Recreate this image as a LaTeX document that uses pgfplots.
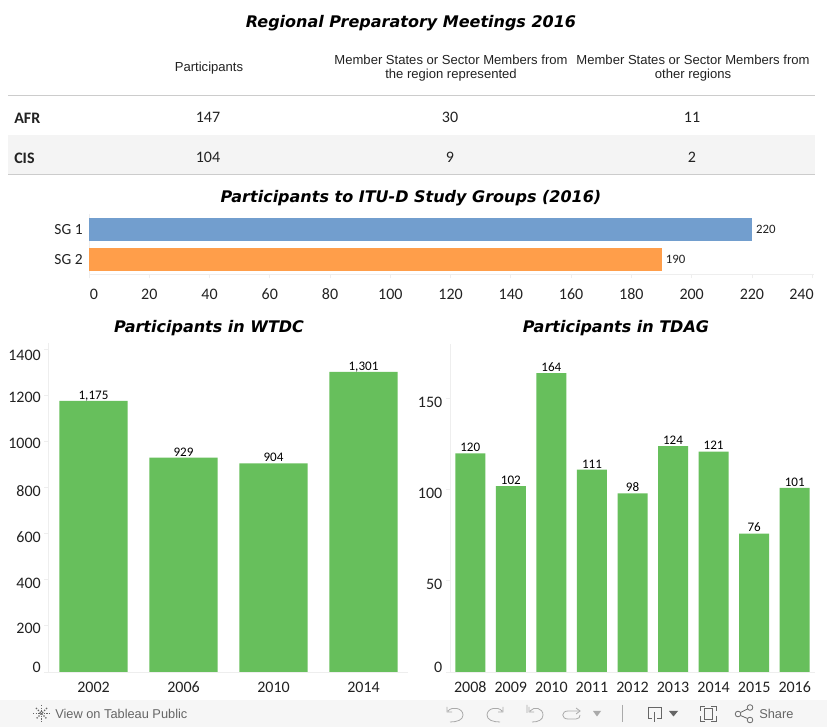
\documentclass[border=0pt]{standalone}
\usepackage{pgfplots}
\pgfplotsset{compat=1.18}
\usepackage{fontspec}
\setmainfont{Liberation Sans}
\newfontfamily\crl{Carlito}
\newfontfamily\ttl{DejaVu Sans}
\definecolor{grn}{HTML}{67BF5C}
\definecolor{blu}{HTML}{729ECE}
\definecolor{org}{HTML}{FF9E4A}
\definecolor{faint}{HTML}{EEEEEE}
\definecolor{rule}{HTML}{CCCCCC}
\definecolor{txt}{HTML}{222222}
\definecolor{icon}{HTML}{AAAAAA}
\definecolor{dk}{HTML}{666666}
\newcommand{\lab}[2]{\raisebox{#1}[7pt][0pt]{#2}}
\newcommand{\titlefont}{\ttl\bfseries\itshape\fontsize{12pt}{14pt}\selectfont}
\pgfplotsset{
  base/.style={
    scale only axis, clip=false,
    axis x line*=bottom, axis y line*=left,
    axis line style={faint},
    tick style={faint, line width=0.6pt},
    major tick length=3pt,
    tick align=outside,
    ticklabel style={font=\crl\fontsize{12pt}{13pt}\selectfont, text=txt},
    xticklabel style={text height=7.6pt, text depth=0pt},
    /pgf/number format/assume math mode=true,
    /pgf/number format/1000 sep={},
  },
  vbars/.style={
    base, ybar, ymin=0, bar shift=0pt,
    xtick=data,
    x tick style={draw=none},
    extra x tick style={tick style={faint}, major tick length=3pt, xticklabel=\empty},
    xticklabel style={yshift=-1.5pt},
    yticklabel style={xshift=0.7pt, yshift=-0.75pt},
    nodes near coords,
    every node near coord/.append style={
      font=\crl\fontsize{9.8pt}{10pt}\selectfont, text=black, inner sep=0pt, yshift=1pt,
      text height=6.2pt, text depth=0pt,
      /pgf/number format/1000 sep={,}, /pgf/number format/assume math mode=true},
  },
}
\begin{document}
\begin{tikzpicture}
\path[use as bounding box] (0,0) rectangle (620.25pt,545.25pt);
\begin{scope}[x=0.75pt,y=-0.75pt,shift={(0pt,545.25pt)}]
  \fill[white] (0,0) rectangle (827,727);
  % table
  \fill[black!4.5] (8,135) rectangle (815,174);
  \draw[rule,line width=0.75pt] (8,95.5) -- (815,95.5);
  \draw[rule,line width=0.75pt] (8,174.5) -- (815,174.5);
  \node[font=\titlefont] at (411,23) {Regional Preparatory Meetings 2016};
  \node[font=\titlefont] at (411,198) {Participants to ITU-D Study Groups (2016)};
  \node[font=\titlefont] at (209,328) {Participants in WTDC};
  \node[font=\titlefont] at (616,328) {Participants in TDAG};
  \begin{scope}[every node/.style={font=\fontsize{9.8pt}{11pt}\selectfont, text=txt, inner sep=0pt}]
    \node at (209,68) {Participants};
    \node at (451,60) {Member States or Sector Members from};
    \node at (451,75) {the region represented};
    \node at (693,60) {Member States or Sector Members from};
    \node at (693,75) {other regions};
  \end{scope}
  \begin{scope}[every node/.style={font=\crl\fontsize{12pt}{13pt}\selectfont, text=txt, inner sep=0pt}]
    \node[anchor=west,font=\crl\bfseries\fontsize{12pt}{13pt}\selectfont] at (14,118) {AFR};
    \node[anchor=west,font=\crl\bfseries\fontsize{12pt}{13pt}\selectfont] at (14,158) {CIS};
    \node at (208,117) {147}; \node at (450,117) {30}; \node at (692,117) {11};
    \node at (208,157) {104}; \node at (450,157) {9}; \node at (692,157) {2};
  \end{scope}
  % toolbar
  \fill[black!3.5] (0,700) rectangle (827,727);
  \node[anchor=west,inner sep=0pt,text=dk,font=\fontsize{9.6pt}{11pt}\selectfont] at (55,713.5) {View on Tableau Public};
  \node[anchor=west,inner sep=0pt,text=dk,font=\fontsize{9.6pt}{11pt}\selectfont] at (759,713.5) {Share};
  \begin{scope}[dk,line width=0.6pt]
    \draw[densely dotted,line width=1pt] (41.5,705) -- (41.5,722) (33,713.5) -- (50,713.5);
    \draw[densely dotted,line width=1pt] (36,708) -- (47,719) (47,708) -- (36,719);
    \draw (738,714) circle (2.8) (750,707.5) circle (2.8) (750,720) circle (2.8);
    \draw (740.5,712.5) -- (747.5,709) (740.5,715.5) -- (747.5,718.5);
    \draw (648,707) -- (661,707) -- (661,718) -- (657,718) (648,707) -- (648,718) -- (652,718);
    \draw (654.5,712) -- (654.5,722);
    \fill (669,711) -- (678,711) -- (673.5,716.5) -- cycle;
    \draw (704,708) rectangle (712,719);
    \draw (700,711) -- (700,706) -- (705,706) (711,706) -- (716,706) -- (716,711)
          (716,716) -- (716,721) -- (711,721) (705,721) -- (700,721) -- (700,716);
  \end{scope}
  \begin{scope}[icon,line width=0.6pt]
    \draw (447,707) -- (447,712) -- (452,712) (448,711) .. controls (452,706) and (463,708) .. (463,715) .. controls (463,720) and (457,722) .. (450,722);
    \draw (503,707) -- (503,712) -- (498,712) (502,711) .. controls (498,706) and (487,708) .. (487,715) .. controls (487,720) and (493,722) .. (500,722);
    \draw (527,705) -- (527,713) (529,707) -- (529,712) -- (534,712) (530,711) .. controls (534,706) and (543,708) .. (543,715) .. controls (543,720) and (538,722) .. (532,722);
    \draw (580,711) -- (568,711) .. controls (561,711) and (561,719) .. (568,719) -- (576,719) .. controls (579,719) and (580,717) .. (580,715);
    \draw (576,708) -- (580,711) -- (576,714);
    \fill (593,711) -- (601,711) -- (597,716.5) -- cycle;
    \draw (622.5,705) -- (622.5,722);
  \end{scope}
\end{scope}

% SG bars: plot x 89..814, y 214.5..274.5 px
\begin{axis}[base, at={(66.75pt,339.375pt)}, anchor=south west,
  width=543.75pt, height=45pt,
  xbar, bar shift=0pt, bar width=17.25pt,
  xmin=0, xmax=240.6, ymin=-0.5, ymax=1.5,
  xtick={0,20,...,240},
  xticklabels={\hspace*{7.5pt}0,20,40,60,80,100,120,140,160,180,200,220,240\hspace*{16pt}},
  xticklabel style={yshift=-4.5pt},
  ytick={0,1}, yticklabels={SG 2,SG 1},
  y tick style={draw=none},
  yticklabel style={font=\crl\fontsize{11.6pt}{12pt}\selectfont, xshift=1.8pt},
  nodes near coords,
  every node near coord/.append style={font=\crl\fontsize{9.6pt}{10pt}\selectfont, text=txt, inner sep=0pt, xshift=3pt},
]
\addplot[fill=blu, draw=none] coordinates {(220,1)};
\addplot[fill=org, draw=none] coordinates {(190,0)};
\end{axis}

% WTDC: x 48.5..408.5, y 343..672 px
\begin{axis}[vbars, at={(36.375pt,41.25pt)}, anchor=south west,
  width=270pt, height=246.75pt, bar width=51pt,
  xmin=-0.5, xmax=3.5, ymax=1426,
  xticklabels={2002,2006,2010,2014},
  extra x ticks={-0.5,0.5,1.5,2.5,3.5}, extra x tick labels={},
  ytick={0,200,...,1400},
  yticklabels={\lab{3.75pt}{0},\lab{-1.5pt}{200},\lab{-2.2pt}{400},\lab{-2.2pt}{600},\lab{-2.2pt}{800},\lab{-1.5pt}{1000},\lab{-1.5pt}{1200},\lab{-4.5pt}{1400}},
]
\addplot[fill=grn, draw=none] coordinates {(0,1175) (1,929) (2,904) (3,1301)};
\end{axis}

% TDAG: x 450..815, y 344..672 px
\begin{axis}[vbars, at={(337.5pt,41.25pt)}, anchor=south west,
  width=273.75pt, height=246pt, bar width=22.5pt,
  xmin=-0.5, xmax=8.5, ymax=180,
  xticklabels={2008,2009,2010,2011,2012,2013,2014,2015,2016},
  extra x ticks={-0.5,0.5,1.5,2.5,3.5,4.5,5.5,6.5,7.5,8.5}, extra x tick labels={},
  ytick={0,50,100,150},
  yticklabels={\lab{3.75pt}{0},\lab{-2.2pt}{50},\lab{-2.2pt}{100},\lab{-2.2pt}{150}},
]
\addplot[fill=grn, draw=none] coordinates {(0,120) (1,102) (2,164) (3,111) (4,98) (5,124) (6,121) (7,76) (8,101)};
\end{axis}
\end{tikzpicture}
\end{document}
